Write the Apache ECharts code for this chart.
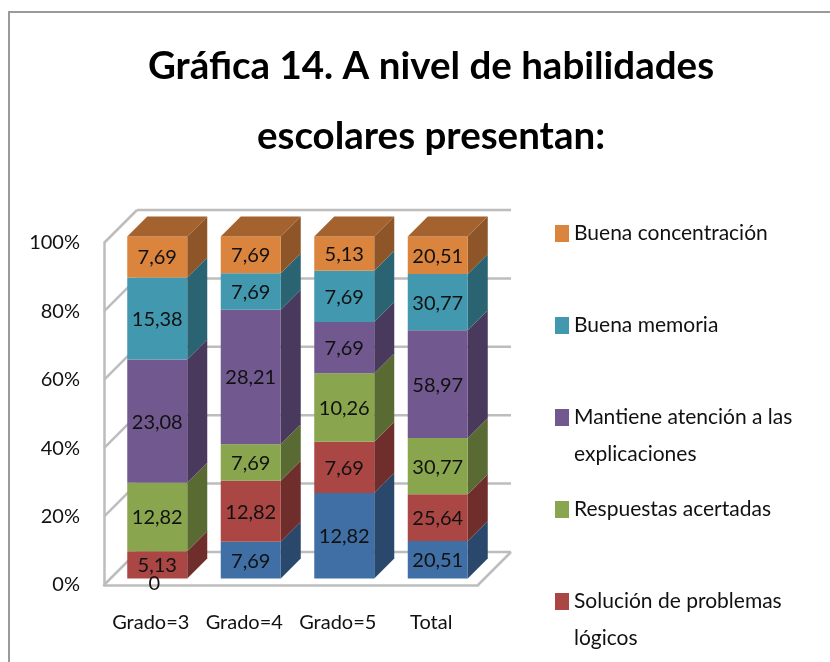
<!DOCTYPE html>
<html>
<head>
<meta charset="utf-8">
<style>
  html, body { margin: 0; padding: 0; background: #fff; }
  #chart { width: 830px; height: 662px; }
</style>
<script src="https://cdn.jsdelivr.net/npm/echarts@6/dist/echarts.min.js"></script>
</head>
<body>
<div id="chart"></div>
<script>
var titleText = "Gráfica 14. A nivel de habilidades\nescolares presentan:";
var categories = ["Grado=3", "Grado=4", "Grado=5", "Total"];
var yTicks = [0, 20, 40, 60, 80, 100];

// de abajo hacia arriba, la leyenda de la serie azul queda cortada en la imagen
var azul = [0, 7.69, 12.82, 20.51];
var solucion = [5.13, 12.82, 7.69, 25.64];
var respuestas = [12.82, 7.69, 10.26, 30.77];
var atencion = [23.08, 28.21, 7.69, 58.97];
var memoria = [15.38, 7.69, 7.69, 30.77];
var concentracion = [7.69, 7.69, 5.13, 20.51];

var seriesNames = ["", "Solución de problemas lógicos", "Respuestas acertadas",
  "Mantiene atención a las explicaciones", "Buena memoria", "Buena concentración"];
var seriesValues = [azul, solucion, respuestas, atencion, memoria, concentracion];
var seriesColors = ["#3f6fa5", "#aa4643", "#89a54e", "#71588f", "#4198af", "#db843d"];
var legendNames = seriesNames.slice(1).reverse();
var legendBreaks = {
  "Solución de problemas lógicos": "Solución de problemas\nlógicos",
  "Mantiene atención a las explicaciones": "Mantiene atención a las\nexplicaciones"
};

var FONT = 'Lato, "Liberation Sans", sans-serif';
var BOX_DEPTH = 33;   // profundidad de la caja 3D
var BAR_SHIFT = 6.5;  // las barras quedan un poco dentro de la caja
var BAR_DEPTH = 20;
var BAR_WIDTH = 60;

function shade(hex, f) {
  var n = parseInt(hex.slice(1), 16);
  var r = Math.round((n >> 16) * f);
  var g = Math.round(((n >> 8) & 255) * f);
  var b = Math.round((n & 255) * f);
  return "rgb(" + r + "," + g + "," + b + ")";
}

// totales por categoria, para pasar a 100%
var totals = categories.map(function (c, i) {
  return seriesValues.reduce(function (s, arr) { return s + arr[i]; }, 0);
});

function renderWalls(params, api) {
  var p = api.coord([0, api.value(1)]);
  var left = params.coordSys.x;
  var right = left + params.coordSys.width;
  var line = { stroke: "#bdbdbd", lineWidth: 2.5 };
  var kids = [
    { type: "line", shape: { x1: left, y1: p[1], x2: left + BOX_DEPTH, y2: p[1] - BOX_DEPTH }, style: line },
    { type: "line", shape: { x1: left + BOX_DEPTH, y1: p[1] - BOX_DEPTH, x2: right + BOX_DEPTH, y2: p[1] - BOX_DEPTH }, style: line }
  ];
  if (api.value(1) === 0) {
    kids.push({ type: "line", shape: { x1: right, y1: p[1], x2: right + BOX_DEPTH, y2: p[1] - BOX_DEPTH }, style: line });
  }
  return { type: "group", children: kids };
}

function makeRenderBar(color, isTop) {
  return function (params, api) {
    var cat = api.value(0);
    var start = api.coord([cat, api.value(1)]);
    var end = api.coord([cat, api.value(2)]);
    var raw = api.value(3);
    var x0 = start[0] + BAR_SHIFT - BAR_WIDTH / 2;
    var x1 = x0 + BAR_WIDTH;
    var y0 = start[1] - BAR_SHIFT;
    var y1 = end[1] - BAR_SHIFT;
    var kids = [];
    if (raw > 0) {
      kids.push({ type: "polygon", shape: { points: [[x1, y0], [x1 + BAR_DEPTH, y0 - BAR_DEPTH], [x1 + BAR_DEPTH, y1 - BAR_DEPTH], [x1, y1]] },
        style: { fill: shade(color, 0.65) } });
      kids.push({ type: "rect", shape: { x: x0, y: y1, width: BAR_WIDTH, height: y0 - y1 }, style: { fill: color } });
      if (isTop) {
        kids.push({ type: "polygon", shape: { points: [[x0, y1], [x1, y1], [x1 + BAR_DEPTH, y1 - BAR_DEPTH], [x0 + BAR_DEPTH, y1 - BAR_DEPTH]] },
          style: { fill: shade(color, 0.75) } });
      }
    }
    kids.push({
      type: "text", z2: 10,
      style: {
        x: raw > 0 ? (x0 + x1) / 2 : (x0 + x1) / 2 - 3,
        y: raw > 0 ? (y0 + y1) / 2 + 1 : y0 + 5,
        text: String(raw).replace(".", ","),
        align: "center", verticalAlign: "middle",
        font: "20px " + FONT, fill: "#111"
      }
    });
    return { type: "group", children: kids };
  };
}

var series = [{
  type: "custom",
  silent: true,
  renderItem: renderWalls,
  encode: { x: 0, y: 1 },
  data: yTicks.map(function (t) { return [0, t]; })
}];

var acc = categories.map(function () { return 0; });
seriesValues.forEach(function (values, k) {
  series.push({
    type: "custom",
    name: seriesNames[k],
    itemStyle: { color: seriesColors[k] },
    renderItem: makeRenderBar(seriesColors[k], k === seriesValues.length - 1),
    encode: { x: 0, y: 1 },
    data: values.map(function (v, i) {
      var from = acc[i];
      acc[i] += v / totals[i] * 100;
      return [i, from, acc[i], v];
    })
  });
});

var chart = echarts.init(document.getElementById("chart"));
chart.setOption({
  backgroundColor: "#fff",
  animation: false,
  title: {
    text: titleText,
    left: 426,
    top: 27,
    textAlign: "center",
    textStyle: { fontFamily: FONT, fontWeight: "bold", fontSize: 38.5, lineHeight: 70, color: "#000" }
  },
  grid: { left: 104, right: 352, top: 243, bottom: 77 },
  xAxis: {
    type: "category",
    data: categories,
    axisLine: { lineStyle: { color: "#bdbdbd", width: 2.5 } },
    axisTick: { show: false },
    axisLabel: { interval: 0, fontFamily: FONT, fontSize: 20, color: "#111", margin: 28 }
  },
  yAxis: {
    type: "value",
    min: 0,
    max: 100,
    interval: 20,
    axisLine: { show: true, lineStyle: { color: "#bdbdbd", width: 2.5 } },
    axisTick: { show: false },
    splitLine: { show: false },
    axisLabel: { formatter: "{value}%", fontFamily: FONT, fontSize: 20, color: "#111", margin: 24, padding: [3, 0, 0, 0] }
  },
  legend: {
    orient: "vertical",
    left: 555,
    top: 178,
    padding: 0,
    itemGap: -19,
    itemWidth: 14,
    itemHeight: 17,
    icon: "rect",
    selectedMode: false,
    data: legendNames,
    formatter: function (name) {
      // el simbolo queda en la primera linea: linea vacia arriba y abajo
      var parts = (legendBreaks[name] || name).split("\n");
      return "\n" + parts[0] + "\n" + (parts[1] || " ");
    },
    textStyle: { fontFamily: FONT, fontSize: 21, lineHeight: 37, color: "#111" }
  },
  graphic: [
    { type: "polyline", silent: true, shape: { points: [[9, 662], [9, 12], [830, 12]] }, style: { stroke: "#9a9a9a", fill: null, lineWidth: 2 } }
  ],
  series: series
});
</script>
</body>
</html>
